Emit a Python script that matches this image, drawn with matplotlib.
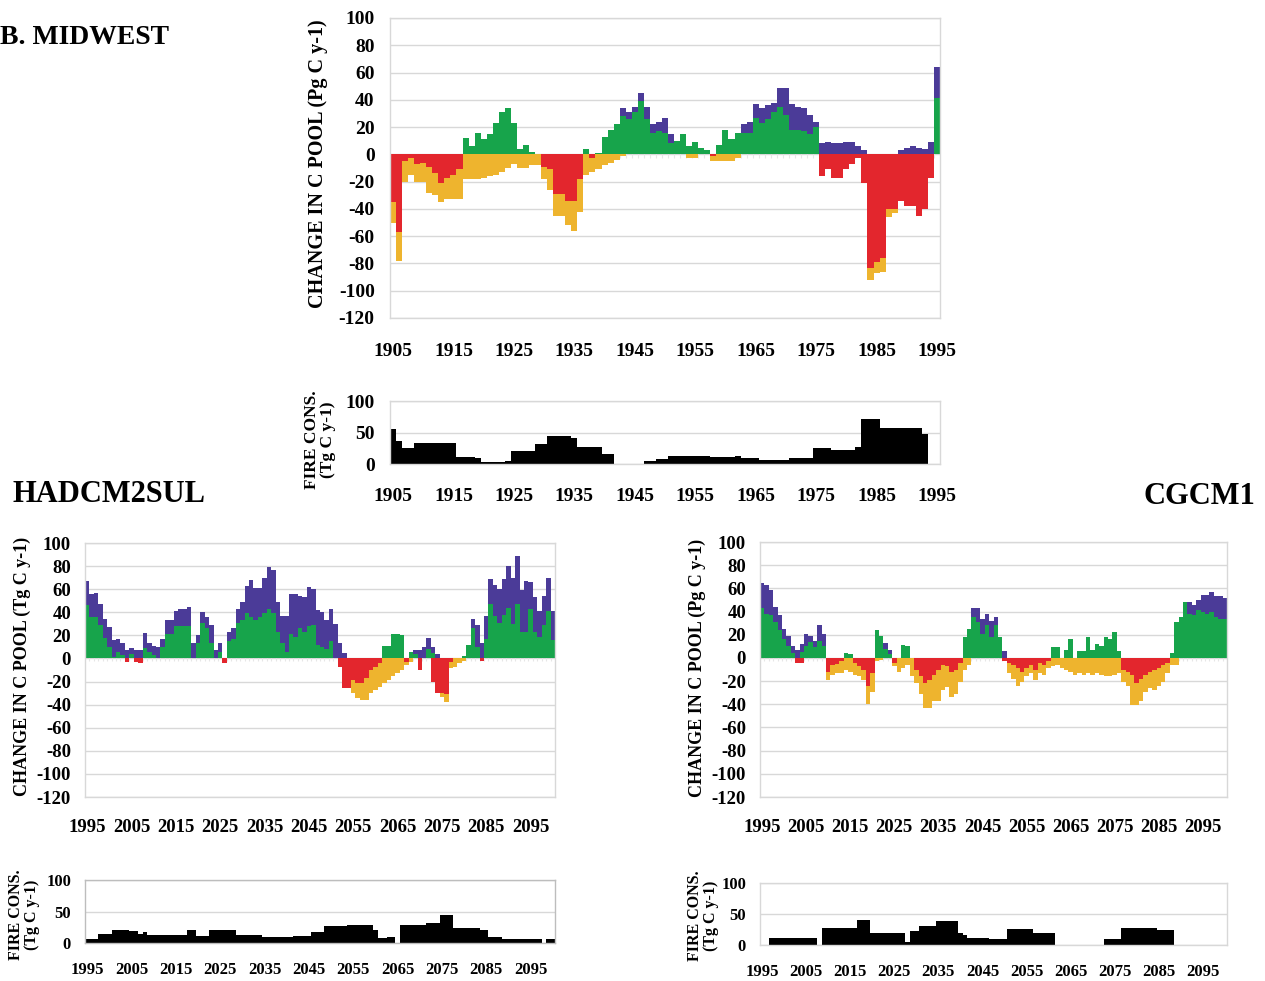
import numpy as np
import matplotlib
matplotlib.use("Agg")
import matplotlib.pyplot as plt

plt.rcParams['font.family'] = ['Liberation Serif', 'DejaVu Serif']
plt.rcParams['font.weight'] = 'bold'
plt.rcParams['axes.unicode_minus'] = False

PURPLE = '#4b3b98'
GREEN = '#17a44b'
RED = '#e3262d'
GOLD = '#eeb42e'
GRID = '#d8d8d8'

W, H = 1265, 981

# ---- Midwest, historical run (1905-1995) ----
mw_years = np.arange(1905, 1996)
mw_purple = [0, 0, 0, 0, 0, 0, 0, 0, 0, 0,
             0, 0, 0, 0, 0, 0, 0, 0, 0, 0,
             0, 0, 0, 0, 0, 0, 0, 0, 0, 0,
             0, 0, 0, 0, 0, 0, 0, 0, 34, 31,
             35, 45, 35, 22, 24, 27, 15, 0, 0, 0,
             0, 0, 0, 0, 0, 0, 0, 0, 22, 24,
             37, 34, 36, 38, 49, 49, 37, 35, 34, 29,
             24, 8, 9, 8, 8, 9, 9, 6, 3, 0,
             0, 0, 0, 0, 3, 5, 6, 5, 4, 9,
             64]
mw_green = [0, 0, 0, 0, 0, 0, 0, 0, 0, 0,
            0, 0, 12, 6, 16, 11, 15, 23, 31, 34,
            23, 4, 7, 2, 0, 0, 0, 0, 0, 0,
            0, 0, 4, 0, 1, 13, 18, 22, 28, 26,
            31, 39, 26, 16, 17, 16, 8, 10, 15, 6,
            9, 5, 3, 0, 7, 18, 11, 16, 16, 16,
            27, 23, 26, 31, 35, 29, 18, 18, 17, 15,
            20, 0, 0, 0, 0, 0, 0, 0, 0, 0,
            0, 0, 0, 0, 0, 0, 0, 0, 0, 0,
            41]
mw_orange = [-50, -78, -20, -15, -20, -20, -28, -30, -35, -33,
             -33, -33, -18, -18, -18, -17, -16, -15, -13, -10,
             -7, -10, -10, -8, -8, -18, -26, -45, -45, -52,
             -56, -42, -15, -13, -11, -8, -6, -4, -1, 0,
             0, 0, 0, 0, 0, 0, 0, 0, 0, -2.5,
             -3, 0, 0, -5, -5, -5, -5, -3, 0, 0,
             0, 0, 0, 0, 0, 0, 0, 0, 0, 0,
             0, 0, 0, 0, 0, 0, 0, 0, 0, -92,
             -87, -86, -46, -43, 0, 0, 0, 0, 0, 0,
             0]
mw_red = [-35, -57, -5, -3, -7, -6, -9, -14, -21, -17,
          -15, -11, 0, 0, 0, 0, 0, 0, 0, 0,
          0, 0, 0, 0, 0, -9, -11, -29, -29, -34,
          -34, -18, 0, -2.5, 0, 0, 0, 0, 0, 0,
          0, 0, 0, 0, 0, 0, 0, 0, 0, 0,
          0, 0, 0, -1.5, 0, 0, 0, 0, 0, 0,
          0, 0, 0, 0, 0, 0, 0, 0, 0, 0,
          0, -16, -11, -17, -17, -11, -7, -3, -21, -83,
          -79, -76, -40, -40, -34, -38, -38, -45, -40, -17,
          0]
mw_fire = [56, 36, 25, 25, 33, 33, 33, 33, 33, 33,
           33, 11, 11, 11, 10, 3, 3, 3, 3, 5,
           21, 21, 21, 21, 31, 31, 44, 44, 44, 44,
           42, 27, 27, 27, 27, 16, 16, 0, 0, 0,
           0, 0, 5, 5, 8, 8, 13, 13, 13, 13,
           13, 13, 13, 11, 11, 11, 11, 13, 10, 10,
           10, 6, 7, 7, 7, 7, 10, 10, 10, 10,
           25, 25, 25, 23, 23, 23, 23, 27, 71, 71,
           71, 57, 57, 57, 57, 57, 57, 57, 47, 0,
           0]
mw_ticks = list(range(1905, 1996, 10))

# ---- scenario runs (1995-2100) ----
fut_years = np.arange(1995, 2101)
fut_ticks = list(range(1995, 2096, 10))

had_purple = [67, 56, 57, 47, 34, 27, 16, 17, 13, 7,
              9, 7, 7, 22, 13, 11, 10, 17, 33, 33,
              41, 43, 43, 45, 13, 20, 40, 36, 29, 7,
              13, 0, 23, 26, 43, 49, 63, 68, 61, 61,
              70, 79, 77, 49, 37, 37, 56, 56, 54, 53,
              62, 60, 42, 40, 33, 43, 30, 13, 5, 0,
              0, 0, 0, 0, 0, 0, 0, 0, 0, 0,
              0, 0, 0, 0, 7, 7, 10, 18, 10, 4,
              0, 0, 0, 0, 0, 0, 0, 34, 29, 13,
              37, 69, 64, 60, 69, 80, 70, 89, 59, 67,
              66, 53, 41, 54, 70, 41]
had_green = [46, 36, 36, 29, 18, 10, 1, 6, 3, 0,
             4, 0, 0, 9, 6, 3, 0, 10, 21, 21,
             28, 28, 28, 28, 0, 13, 31, 26, 13, 0,
             6, 0, 15, 17, 31, 33, 39, 36, 33, 36,
             39, 43, 39, 23, 13, 6, 21, 19, 26, 23,
             28, 29, 12, 10, 8, 15, 0, 0, 0, 0,
             0, 0, 0, 0, 0, 0, 0, 11, 11, 21,
             21, 20, 0, 6, 4, 0, 0, 8, 5, 0,
             0, 0, 0, 0, 0, 2, 12, 26, 10, 0,
             17, 47, 37, 31, 38, 44, 30, 47, 23, 23,
             43, 23, 19, 29, 41, 16]
had_orange = [0, 0, 0, 0, 0, 0, 0, 0, 0, 0,
              0, 0, 0, 0, 0, 0, 0, 0, 0, 0,
              0, 0, 0, 0, 0, 0, 0, 0, 0, 0,
              0, 0, 0, 0, 0, 0, 0, 0, 0, 0,
              0, 0, 0, 0, 0, 0, 0, 0, 0, 0,
              0, 0, 0, 0, 0, 0, 0, 0, 0, 0,
              -30, -34, -36, -36, -30, -27, -25, -21, -19, -15,
              -13, -10, -6, -3, 0, 0, 0, 0, 0, 0,
              -33, -38, -8, -7, -4, -2, 0, 0, 0, 0,
              0, 0, 0, 0, 0, 0, 0, 0, 0, 0,
              0, 0, 0, 0, 0, 0]
had_red = [0, 0, 0, 0, 0, 0, 0, 0, 0, -3,
           0, -3, -4, 0, 0, 0, 0, 0, 0, 0,
           0, 0, 0, 0, 0, 0, 0, 0, 0, 0,
           0, -4, 0, 0, 0, 0, 0, 0, 0, 0,
           0, 0, 0, 0, 0, 0, 0, 0, 0, 0,
           0, 0, 0, 0, 0, 0, 0, -7, -26, -26,
           -19, -21, -21, -17, -10, -7, -4, 0, 0, 0,
           0, 0, -3, 0, 0, -10, 0, 0, -20, -30,
           -30, -31, -3, 0, 0, 0, 0, 0, 0, -2,
           0, 0, 0, 0, 0, 0, 0, 0, 0, 0,
           0, 0, 0, 0, 0, 0]
had_fire = [6, 6, 6, 15, 15, 15, 20, 20, 20, 20,
            19, 19, 15, 17, 13, 13, 13, 13, 13, 13,
            13, 13, 13, 20, 20, 11, 11, 11, 20, 20,
            20, 20, 20, 20, 13, 13, 13, 13, 13, 13,
            9, 9, 9, 9, 9, 9, 9, 11, 11, 11,
            11, 17, 17, 17, 27, 27, 27, 27, 27, 28,
            28, 28, 28, 28, 28, 20, 8, 8, 9, 9,
            0, 28, 28, 28, 28, 28, 28, 31, 31, 31,
            45, 45, 45, 24, 24, 24, 24, 24, 24, 20,
            20, 9, 9, 9, 6, 6, 6, 6, 6, 6,
            6, 6, 6, 0, 6, 6]

cg_purple = [65, 63, 59, 44, 37, 25, 19, 10, 7, 12,
             21, 19, 15, 28, 21, 0, 0, 0, 0, 0,
             0, 0, 0, 0, 0, 0, 0, 0, 13, 7,
             0, 0, 0, 0, 0, 0, 0, 0, 0, 0,
             0, 0, 0, 0, 0, 0, 0, 0, 43, 43,
             34, 38, 32, 35, 0, 6, 0, 0, 0, 0,
             0, 0, 0, 0, 0, 0, 0, 0, 0, 0,
             0, 0, 0, 0, 0, 0, 0, 0, 0, 0,
             0, 0, 0, 0, 0, 0, 0, 0, 0, 0,
             0, 0, 0, 0, 0, 0, 0, 48, 46, 50,
             54, 54, 57, 53, 53, 52]
cg_green = [43, 38, 37, 31, 24, 16, 10, 4, 0, 5,
            10, 14, 9, 15, 10, 0, 0, 0, 0, 4,
            3, 0, 0, 0, 0, 0, 24, 19, 8, 3,
            0, 0, 11, 10, 0, 0, 0, 0, 0, 0,
            0, 0, 0, 0, 0, 0, 18, 25, 35, 31,
            21, 28, 18, 28, 18, 0, 0, 0, 0, 0,
            0, 0, 0, 0, 0, 0, 9, 9, 0, 7,
            16, 0, 6, 6, 18, 7, 12, 10, 18, 16,
            22, 6, 0, 0, 0, 0, 0, 0, 0, 0,
            0, 0, 0, 4, 31, 35, 48, 38, 37, 41,
            40, 38, 40, 35, 34, 34]
cg_orange = [0, 0, 0, 0, 0, 0, 0, 0, 0, 0,
             0, 0, 0, 0, 0, -19, -15, -13, -13, -10,
             -12, -15, -16, -19, -40, -29, -3, -2, 0, 0,
             -7, -12, -9, -6, -16, -22, -31, -43, -43, -37,
             -37, -28, -25, -34, -31, -21, -10, -6, 0, 0,
             0, 0, 0, 0, 0, 0, -13, -18, -24, -21,
             -16, -13, -19, -13, -15, -9, -7, -6, -9, -10,
             -12, -15, -13, -15, -13, -15, -13, -15, -16, -16,
             -15, -13, -21, -24, -41, -41, -37, -29, -26, -28,
             -24, -21, -13, -6, -6, 0, 0, 0, 0, 0,
             0, 0, 0, 0, 0, 0]
cg_red = [0, 0, 0, 0, 0, 0, 0, 0, -4, -4,
          0, 0, 0, 0, 0, -12, -6, -5, -3, 0,
          0, -4, -7, -10, -24, -13, 0, 0, 0, 0,
          -4, 0, 0, 0, 0, -10, -16, -22, -19, -15,
          -10, -6, -7, -12, -10, -4, 0, 0, 0, 0,
          0, 0, 0, 0, 0, -3, -4, -6, -9, -12,
          -9, -6, -10, -4, -6, -3, 0, 0, 0, 0,
          0, 0, 0, 0, 0, 0, 0, 0, 0, 0,
          0, 0, -10, -12, -15, -22, -18, -15, -12, -10,
          -9, -6, -4, 0, 0, 0, 0, 0, 0, 0,
          0, 0, 0, 0, 0, 0]
cg_fire = [0, 0, 11, 11, 11, 11, 11, 11, 11, 11,
           11, 11, 11, 0, 27, 27, 27, 27, 27, 27,
           27, 27, 40, 40, 40, 19, 19, 19, 19, 19,
           19, 19, 19, 5, 22, 22, 31, 31, 31, 31,
           38, 38, 38, 38, 38, 20, 16, 11, 11, 11,
           11, 11, 10, 10, 10, 10, 26, 26, 26, 26,
           26, 26, 20, 20, 20, 20, 20, 0, 0, 0,
           0, 0, 0, 0, 0, 0, 0, 0, 9, 9,
           9, 9, 28, 28, 28, 28, 28, 28, 28, 28,
           25, 25, 25, 25, 0, 0, 0, 0, 0, 0,
           0, 0, 0, 0, 0, 0]


def px_axes(fig, x0, y0, x1, y1):
    """Axes placed by pixel box (left, top, right, bottom)."""
    return fig.add_axes([x0 / W, 1 - y1 / H, (x1 - x0) / W, (y1 - y0) / H])


def px_text(fig, x, y, s, **kw):
    return fig.text(x / W, 1 - y / H, s, **kw)


def frame(ax, years, ticks, fs, xpad, ypad, edge=GRID):
    ax.set_xlim(years[0] - 0.5, years[-1] + 0.5)
    ax.set_xticks(ticks)
    ax.grid(axis='y', color=GRID, lw=1.0)
    ax.set_axisbelow(True)
    for sp in ax.spines.values():
        sp.set_color(edge)
        sp.set_linewidth(1.0)
    ax.tick_params(axis='x', length=0, labelsize=fs, pad=xpad)
    ax.tick_params(axis='y', length=0, labelsize=fs, pad=ypad)
    # category marks just under the zero line
    ax.vlines(years[:-1] + 0.5, -2.5 if ax.get_ylim()[0] < 0 else 0, 0,
              color='#e6e6e6', lw=0.8, zorder=0.8)


def pool_panel(ax, years, purple, green, orange, red, ticks, fs, xpad, ypad):
    ax.bar(years, purple, width=1.0, color=PURPLE, linewidth=0)
    ax.bar(years, green, width=1.0, color=GREEN, linewidth=0)
    ax.bar(years, orange, width=1.0, color=GOLD, linewidth=0)
    ax.bar(years, red, width=1.0, color=RED, linewidth=0)
    ax.set_ylim(-120, 100)
    ax.set_yticks(range(-120, 101, 20))
    frame(ax, years, ticks, fs, xpad, ypad)


def fire_panel(ax, years, fire, ticks, fs, xpad, ypad, edge=GRID):
    ax.bar(years, fire, width=1.0, color='black', linewidth=0)
    ax.set_ylim(0, 100)
    ax.set_yticks([0, 50, 100])
    frame(ax, years, ticks, fs, xpad, ypad, edge)


fig = plt.figure(figsize=(W / 100, H / 100), dpi=100)

# Midwest
ax = px_axes(fig, 390, 18, 940, 318)
pool_panel(ax, mw_years, mw_purple, mw_green, mw_orange, mw_red, mw_ticks, 14, 18, 11)
px_text(fig, 318, 164, 'CHANGE IN C POOL (Pg C y-1)', rotation=90,
        ha='center', va='center', fontsize=14.5)
ax = px_axes(fig, 390, 401, 940, 464)
fire_panel(ax, mw_years, mw_fire, mw_ticks, 14, 17, 11)
px_text(fig, 320, 440, 'FIRE CONS.\n(Tg C y-1)', rotation=90, ha='center',
        va='center', fontsize=12.5, linespacing=1.0, multialignment='center')

# HADCM2SUL
ax = px_axes(fig, 85, 543, 555, 797)
pool_panel(ax, fut_years, had_purple, had_green, had_orange, had_red, fut_ticks, 13.5, 16, 10)
px_text(fig, 22, 666, 'CHANGE IN C POOL (Tg C y-1)', rotation=90,
        ha='center', va='center', fontsize=13)
ax = px_axes(fig, 85, 880, 555, 943)
fire_panel(ax, fut_years, had_fire, fut_ticks, 12, 14, 10, edge='#bdbdbd')
px_text(fig, 24, 915, 'FIRE CONS.\n(Tg C y-1)', rotation=90, ha='center',
        va='center', fontsize=11.5, linespacing=1.0, multialignment='center')

# CGCM1
ax = px_axes(fig, 760, 542, 1227, 797)
pool_panel(ax, fut_years, cg_purple, cg_green, cg_orange, cg_red, fut_ticks, 13.5, 16, 10)
px_text(fig, 697, 668, 'CHANGE IN C POOL (Pg C y-1)', rotation=90,
        ha='center', va='center', fontsize=13)
ax = px_axes(fig, 760, 883, 1227, 945)
fire_panel(ax, fut_years, cg_fire, fut_ticks, 12, 14, 10)
px_text(fig, 703, 916, 'FIRE CONS.\n(Tg C y-1)', rotation=90, ha='center',
        va='center', fontsize=11.5, linespacing=1.0, multialignment='center')

# panel titles
px_text(fig, 0, 37, 'B. MIDWEST', ha='left', va='center', fontsize=20)
px_text(fig, 12, 495, 'HADCM2SUL', ha='left', va='center', fontsize=22)
px_text(fig, 1255, 497, 'CGCM1', ha='right', va='center', fontsize=22)

fig.savefig('out.png', dpi=100)
